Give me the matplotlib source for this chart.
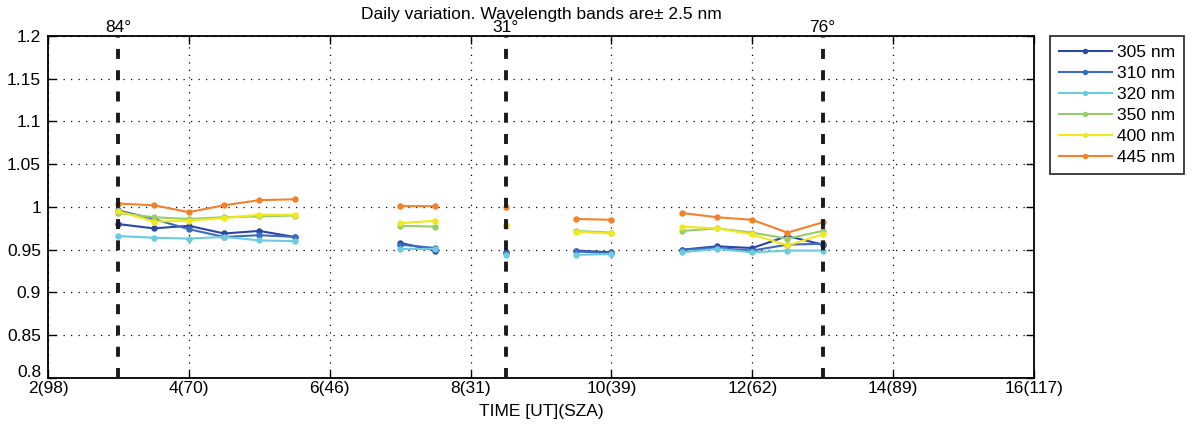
import numpy as np
import matplotlib
matplotlib.use("Agg")
import matplotlib.pyplot as plt
from matplotlib.transforms import ScaledTranslation

plt.rcParams["font.family"] = ["Liberation Sans", "DejaVu Sans"]

nan = np.nan

# UT hours of the measurements; NaN breaks the line between measurement sessions
time_ut = [3, 3.5, 4, 4.5, 5, 5.5, nan, 7, 7.5, nan, 8.5, nan, 9.5, 10, nan,
           11, 11.5, 12, 12.5, 13]

ratio_305 = [0.980, 0.975, 0.978, 0.969, 0.972, 0.965, nan, 0.958, 0.949, nan,
             0.947, nan, 0.949, 0.947, nan, 0.950, 0.954, 0.952, 0.966, 0.956]
ratio_310 = [0.996, 0.986, 0.974, 0.965, 0.967, 0.965, nan, 0.956, 0.952, nan,
             0.946, nan, 0.948, 0.946, nan, 0.950, 0.952, 0.949, 0.956, 0.957]
ratio_320 = [0.966, 0.964, 0.963, 0.965, 0.961, 0.960, nan, 0.951, 0.951, nan,
             0.944, nan, 0.944, 0.945, nan, 0.947, 0.951, 0.947, 0.949, 0.949]
ratio_350 = [0.993, 0.988, 0.986, 0.988, 0.989, 0.990, nan, 0.978, 0.977, nan,
             0.978, nan, 0.972, 0.970, nan, 0.972, 0.975, 0.970, 0.963, 0.972]
ratio_400 = [0.995, 0.983, 0.984, 0.987, 0.991, 0.991, nan, 0.981, 0.984, nan,
             0.979, nan, 0.971, 0.969, nan, 0.977, 0.975, 0.968, 0.955, 0.968]
ratio_445 = [1.004, 1.002, 0.994, 1.002, 1.008, 1.009, nan, 1.001, 1.001, nan,
             1.000, nan, 0.986, 0.985, nan, 0.993, 0.988, 0.985, 0.970, 0.982]

band_labels = ["305 nm", "310 nm", "320 nm", "350 nm", "400 nm", "445 nm"]
band_colors = ["#2a48a3", "#3b6cbf", "#6ccbdf", "#99cc6a", "#f2e81c", "#f1822b"]

# solar zenith angle markers (UT hour, label)
sza_times = [3, 8.5, 13]
sza_labels = ["84°", "31°", "76°"]

xtick_pos = [2, 4, 6, 8, 10, 12, 14, 16]
xtick_labels = ["2(98)", "4(70)", "6(46)", "8(31)", "10(39)", "12(62)",
                "14(89)", "16(117)"]
ytick_pos = [0.8, 0.85, 0.9, 0.95, 1.0, 1.05, 1.1, 1.15, 1.2]
ytick_labels = ["0.8", "0.85", "0.9", "0.95", "1", "1.05", "1.1", "1.15", "1.2"]

FS = 12.5

fig = plt.figure(figsize=(11.92, 4.32), dpi=100)
ax = fig.add_axes([0.0403, 0.125, 0.8271, 0.7917])

series = [ratio_305, ratio_310, ratio_320, ratio_350, ratio_400, ratio_445]
for values, label, color in zip(series, band_labels, band_colors):
    ax.plot(time_ut, values, color=color, lw=1.5, marker="o", ms=3.6,
            label=label, zorder=3)

# dashed SZA lines drawn bottom-up so a dash sits on the x axis
for t, lab in zip(sza_times, sza_labels):
    ax.plot([t, t], [0.8, 1.2], color="#1a1a1a", lw=2.8,
            linestyle=(0, (2.57, 2.9)), zorder=4, solid_capstyle="butt")
    ax.text(t, 1.2015, lab, ha="center", va="bottom", fontsize=FS)

ax.set_xlim(2, 16)
ax.set_ylim(0.8, 1.2)
ax.set_xticks(xtick_pos)
ax.set_xticklabels(xtick_labels, fontsize=FS)
ax.set_yticks(ytick_pos)
ax.set_yticklabels(ytick_labels, fontsize=FS)
ax.tick_params(direction="in", length=6, width=1, top=True, right=True)
ax.tick_params(axis="y", pad=5)
ax.tick_params(axis="x", pad=2)
ax.grid(True, color="black", linestyle=(0, (1, 5)), lw=0.9)
for side in ax.spines.values():
    side.set_linewidth(1.3)

# lift the bottom y label clear of the first x label
bottom_lab = ax.get_yticklabels()[0]
bottom_lab.set_transform(bottom_lab.get_transform()
                         + ScaledTranslation(0, 5 / 72, fig.dpi_scale_trans))

ax.set_title("Daily variation. Wavelength bands are\u00b1 2.5 nm", fontsize=FS,
             pad=12)
ax.set_xlabel("TIME [UT](SZA)", fontsize=FS, labelpad=6)

leg = ax.legend(loc="upper left", bbox_to_anchor=(1.0165, 1.0), fontsize=FS,
                frameon=True, fancybox=False, edgecolor="black",
                borderaxespad=0, handlelength=3.05, handletextpad=0.3,
                labelspacing=0.34, borderpad=0.5, markerscale=0.8)
leg.get_frame().set_linewidth(1.3)

fig.savefig("out.png", dpi=100)
